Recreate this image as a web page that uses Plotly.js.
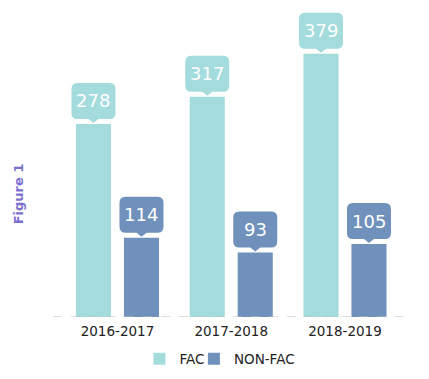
<!DOCTYPE html>
<html>
<head>
<meta charset="utf-8">
<script src="https://cdn.plot.ly/plotly-3.0.1.min.js"></script>
<style>html,body{margin:0;padding:0;background:#fff;}#chart{width:429px;height:379px;}</style>
</head>
<body>
<div id="chart"></div>
<script>
const categories = ["2016-2017", "2017-2018", "2018-2019"];
const facValues = [278, 317, 379];
const nonFacValues = [114, 93, 105];
const seriesNames = ["FAC", "NON-FAC"];
const seriesColors = ["#a4dbdc", "#7091bb"];
const figureLabel = "Figure 1";

const FONT = "DejaVu Sans, sans-serif";
const bargap = 0.156, bargroupgap = 0.27;
const xIdx = categories.map((_, i) => i);
const allSeries = [facValues, nonFacValues];
const legendIds = ["legend", "legend2"];

const traces = allSeries.map((vals, s) => ({
  type: "bar",
  name: seriesNames[s],
  x: xIdx,
  y: vals,
  legend: legendIds[s],
  marker: {color: seriesColors[s]},
  hoverinfo: "none"
}));

// bar centre offsets derived from group geometry
const slot = (1 - bargap) / allSeries.length;
const offsets = allSeries.map((_, s) => -(1 - bargap) / 2 + slot * (s + 0.5));

const boxPath = "M -16,5 L -5,5 L 0,1 L 5,5 L 16,5 Q 22,5 22,11 L 22,35 Q 22,41 16,41 L -16,41 Q -22,41 -22,35 L -22,11 Q -22,5 -16,5 Z";

const shapes = [{
  type: "line", xref: "paper", yref: "y", x0: 0, x1: 1, y0: 0, y1: 0,
  line: {color: "#bdbdbd", width: 1.2, dash: "dash"}
}];
const annotations = [];
allSeries.forEach((vals, s) => {
  vals.forEach((v, i) => {
    shapes.push({
      type: "path", xref: "x", yref: "y",
      xsizemode: "pixel", ysizemode: "pixel",
      xanchor: xIdx[i] + offsets[s], yanchor: v,
      path: boxPath,
      fillcolor: seriesColors[s], line: {width: 0}
    });
    annotations.push({
      x: xIdx[i] + offsets[s], y: v, xref: "x", yref: "y",
      text: String(v), showarrow: false, yshift: 23,
      font: {family: FONT, size: 18, color: "#ffffff"}
    });
  });
});
annotations.push({
  xref: "paper", yref: "paper", x: -0.097, y: 0.4,
  xanchor: "center", yanchor: "middle",
  text: "<b>" + figureLabel + "</b>", textangle: -90, showarrow: false,
  font: {family: FONT, size: 13, color: "#7b70d0"}
});

const legendBase = {
  orientation: "h", xref: "container", yref: "container",
  xanchor: "left", y: 0.053, yanchor: "middle",
  font: {family: FONT, size: 13.5, color: "#222"}, itemclick: false,
  itemwidth: 30, bgcolor: "rgba(0,0,0,0)"
};

const layout = {
  width: 429, height: 379,
  margin: {l: 53, r: 16, t: 10, b: 62, autoexpand: false},
  paper_bgcolor: "#ffffff", plot_bgcolor: "#ffffff",
  barmode: "group", bargap: bargap, bargroupgap: bargroupgap,
  showlegend: true,
  legend: Object.assign({}, legendBase, {x: 0.325}),
  legend2: Object.assign({}, legendBase, {x: 0.452}),
  xaxis: {range: [-0.567, 2.598], tickvals: xIdx, ticktext: categories,
          showgrid: false, zeroline: false, showline: false, ticks: "",
          ticklabelstandoff: 4,
          tickfont: {family: FONT, size: 13.5, color: "#222"}, fixedrange: true},
  yaxis: {range: [0, 442], visible: false, showgrid: false, zeroline: false, fixedrange: true},
  shapes: shapes,
  annotations: annotations,
  font: {family: FONT}
};

Plotly.newPlot("chart", traces, layout, {displayModeBar: false, staticPlot: true});
</script>
</body>
</html>
